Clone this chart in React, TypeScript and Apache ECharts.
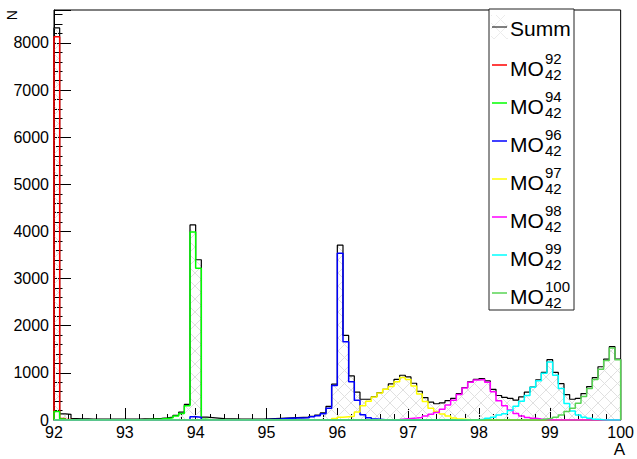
import React, { useEffect, useRef } from "react";
import * as echarts from "echarts";

// Histogram binning: 100 bins from 92 to 100
const BIN_MIN = 92;
const BIN_WIDTH = 0.08;

// Bin contents (bin i covers [92 + 0.08 i, 92 + 0.08 (i+1)])
const summ = [
  8320, 130, 120, 30, 25, 25, 20, 20, 20, 20,
  20, 20, 20, 20, 20, 25, 25, 30, 35, 45,
  60, 100, 165, 330, 4140, 3400, 60, 50, 40, 30,
  25, 25, 20, 20, 20, 20, 20, 25, 30, 35,
  40, 45, 50, 55, 60, 80, 105, 150, 290, 760,
  3710, 1795, 935, 590, 440, 440, 495, 580, 650, 765,
  860, 950, 915, 780, 610, 475, 380, 345, 365, 410,
  460, 560, 690, 810, 860, 880, 830, 650, 520, 480,
  460, 420, 490, 590, 700, 850, 1010, 1280, 1010, 770,
  540, 440, 460, 560, 710, 900, 1130, 1290, 1555, 1290,
];
const mo92 = [
  8130, 30, 10, 0, 0, 0, 0, 0, 0, 0,
  0, 0, 0, 0, 0, 0, 0, 0, 0, 0,
  0, 0, 0, 0, 0, 0, 0, 0, 0, 0,
  0, 0, 0, 0, 0, 0, 0, 0, 0, 0,
  0, 0, 0, 0, 0, 0, 0, 0, 0, 0,
  0, 0, 0, 0, 0, 0, 0, 0, 0, 0,
  0, 0, 0, 0, 0, 0, 0, 0, 0, 0,
  0, 0, 0, 0, 0, 0, 0, 0, 0, 0,
  0, 0, 0, 0, 0, 0, 0, 0, 0, 0,
  0, 0, 0, 0, 0, 0, 0, 0, 0, 0,
];
const mo94 = [
  180, 20, 0, 0, 0, 0, 0, 0, 0, 0,
  0, 0, 0, 0, 0, 5, 10, 15, 20, 30,
  45, 85, 140, 300, 3990, 3220, 15, 0, 0, 0,
  0, 0, 0, 0, 0, 0, 0, 0, 0, 0,
  0, 0, 0, 0, 0, 0, 0, 0, 0, 0,
  0, 0, 0, 0, 0, 0, 0, 0, 0, 0,
  0, 0, 0, 0, 0, 0, 0, 0, 0, 0,
  0, 0, 0, 0, 0, 0, 0, 0, 0, 0,
  0, 0, 0, 0, 0, 0, 0, 0, 0, 0,
  0, 0, 0, 0, 0, 0, 0, 0, 0, 0,
];
const mo96 = [
  0, 0, 0, 0, 0, 0, 0, 0, 0, 0,
  0, 0, 0, 0, 0, 0, 0, 0, 0, 0,
  0, 0, 0, 0, 70, 60, 0, 0, 0, 0,
  0, 0, 0, 0, 0, 0, 5, 10, 15, 20,
  30, 35, 40, 45, 50, 70, 90, 130, 250, 730,
  3540, 1660, 810, 420, 110, 50, 20, 10, 0, 0,
  0, 0, 0, 0, 0, 0, 0, 0, 0, 0,
  0, 0, 0, 0, 0, 0, 0, 0, 0, 0,
  0, 0, 0, 0, 0, 0, 0, 0, 0, 0,
  0, 0, 0, 0, 0, 0, 0, 0, 0, 0,
];
const mo97 = [
  0, 0, 0, 0, 0, 0, 0, 0, 0, 0,
  0, 0, 0, 0, 0, 0, 0, 0, 0, 0,
  0, 0, 0, 0, 0, 0, 0, 0, 0, 0,
  0, 0, 0, 0, 0, 0, 0, 0, 0, 0,
  0, 0, 0, 0, 0, 0, 0, 5, 10, 30,
  60, 70, 80, 170, 300, 400, 490, 575, 650, 710,
  810, 900, 860, 720, 550, 390, 250, 180, 125, 85,
  40, 20, 10, 0, 0, 0, 0, 0, 0, 0,
  0, 0, 0, 0, 0, 0, 0, 0, 0, 0,
  0, 0, 0, 0, 0, 0, 0, 0, 0, 0,
];
const mo98 = [
  0, 0, 0, 0, 0, 0, 0, 0, 0, 0,
  0, 0, 0, 0, 0, 0, 0, 0, 0, 0,
  0, 0, 0, 0, 0, 0, 0, 0, 0, 0,
  0, 0, 0, 0, 0, 0, 0, 0, 0, 0,
  0, 0, 0, 0, 0, 0, 0, 0, 0, 0,
  0, 0, 0, 0, 0, 0, 0, 0, 0, 5,
  10, 20, 30, 40, 55, 85, 120, 160, 230, 320,
  420, 540, 680, 800, 850, 860, 800, 600, 410, 300,
  210, 140, 85, 55, 35, 20, 10, 0, 0, 0,
  0, 0, 0, 0, 0, 0, 0, 0, 0, 0,
];
const mo99 = [
  0, 0, 0, 0, 0, 0, 0, 0, 0, 0,
  0, 0, 0, 0, 0, 0, 0, 0, 0, 0,
  0, 0, 0, 0, 0, 0, 0, 0, 0, 0,
  0, 0, 0, 0, 0, 0, 0, 0, 0, 0,
  0, 0, 0, 0, 0, 0, 0, 0, 0, 0,
  0, 0, 0, 0, 0, 0, 0, 0, 0, 0,
  0, 0, 0, 0, 0, 0, 0, 0, 0, 0,
  0, 0, 0, 0, 5, 15, 35, 57, 106, 130,
  200, 290, 400, 520, 693, 833, 990, 1230, 950, 670,
  350, 190, 106, 57, 35, 14, 5, 0, 0, 0,
];
const mo100 = [
  0, 0, 0, 0, 0, 0, 0, 0, 0, 0,
  0, 0, 0, 0, 0, 0, 0, 0, 0, 0,
  0, 0, 0, 0, 0, 0, 0, 0, 0, 0,
  0, 0, 0, 0, 0, 0, 0, 0, 0, 0,
  0, 0, 0, 0, 0, 0, 0, 0, 0, 0,
  0, 0, 0, 0, 0, 0, 0, 0, 0, 0,
  0, 0, 0, 0, 0, 0, 0, 0, 0, 0,
  0, 0, 0, 0, 0, 0, 0, 0, 0, 0,
  0, 0, 0, 0, 0, 5, 20, 35, 57, 106,
  180, 250, 354, 500, 671, 862, 1075, 1260, 1530, 1280,
];

const componentMasses = ["92", "94", "96", "97", "98", "99", "100"];
const componentData = [mo92, mo94, mo96, mo97, mo98, mo99, mo100];
const componentColors = ["#ff0000", "#00ff00", "#0000ff", "#ffff00", "#ff00ff", "#00ffff", "#59d454"];
const chargeNumber = "42";
const elementSymbol = "MO";
const summName = "Summ";

const xTicks = { min: 92, max: 100, interval: 1 };
const yTicks = { min: 0, max: 8700, interval: 1000 };

const FONT = "'Liberation Sans', Arial, Helvetica, sans-serif";

function histPoints(vals: number[]): [number, number][] {
  const pts: [number, number][] = [[BIN_MIN, 0]];
  vals.forEach((v, i) => {
    const x0 = BIN_MIN + i * BIN_WIDTH;
    pts.push([x0, v], [x0 + BIN_WIDTH, v]);
  });
  pts.push([BIN_MIN + vals.length * BIN_WIDTH, 0]);
  return pts;
}

const hatchSvg =
  "<svg xmlns='http://www.w3.org/2000/svg' width='13' height='13'>" +
  "<path d='M0 0L13 13M13 0L0 13' stroke='#e0e0e0' stroke-width='1' fill='none'/></svg>";
const hatchUrl = "data:image/svg+xml;charset=utf-8," + encodeURIComponent(hatchSvg);

export default function App() {
  const ref = useRef<HTMLDivElement>(null);

  useEffect(() => {
    if (!ref.current) return;
    const chart = echarts.init(ref.current, undefined, { renderer: "svg" });

    const hatch: any = { image: hatchUrl, repeat: "repeat", imageWidth: 13, imageHeight: 13 };

    const series: any[] = [
      {
        name: summName,
        type: "line",
        data: histPoints(summ),
        symbol: "none",
        silent: true,
        lineStyle: { color: "#000", width: 1.2 },
        areaStyle: { color: hatch, opacity: 1 },
        z: 2,
      },
      ...componentData.map((d, k) => ({
        name: elementSymbol + componentMasses[k],
        type: "line",
        data: histPoints(d),
        symbol: "none",
        silent: true,
        lineStyle: { color: componentColors[k], width: 1.5 },
        z: 3 + k,
      })),
    ];

    // Legend built from graphic elements (stacked super/subscripts)
    const lx = 489, ly = 9, lw = 85, lh = 301, step = 38, firstY = 27;
    const legendEls: any[] = [
      { type: "rect", shape: { x: lx, y: ly, width: lw, height: lh }, style: { fill: "#fff", stroke: "#222", lineWidth: 1 }, z: 100 },
      { type: "rect", shape: { x: lx + 2, y: firstY - 12, width: 17, height: 24 }, style: { fill: hatch, opacity: 0.6 }, z: 101 },
      { type: "line", shape: { x1: lx + 3, y1: firstY, x2: lx + 18, y2: firstY }, style: { stroke: "#000", lineWidth: 1 }, z: 102 },
      { type: "text", style: { text: summName, x: lx + 21, y: firstY + 1, font: `21px ${FONT}`, fill: "#000", align: "left", verticalAlign: "middle" }, z: 102 },
    ];
    componentMasses.forEach((m, k) => {
      const cy = firstY + step * (k + 1);
      legendEls.push(
        { type: "line", shape: { x1: lx + 3, y1: cy, x2: lx + 18, y2: cy }, style: { stroke: componentColors[k], lineWidth: 1.5 }, z: 102 },
        { type: "text", style: { text: elementSymbol, x: lx + 21, y: cy + 3, font: `21px ${FONT}`, fill: "#000", align: "left", verticalAlign: "middle" }, z: 102 },
        { type: "text", style: { text: m, x: lx + 56, y: cy - 7, font: `15px ${FONT}`, fill: "#000", align: "left", verticalAlign: "middle" }, z: 102 },
        { type: "text", style: { text: chargeNumber, x: lx + 56, y: cy + 9, font: `15px ${FONT}`, fill: "#000", align: "left", verticalAlign: "middle" }, z: 102 },
      );
    });

    const option: any = {
      animation: false,
      backgroundColor: "#fff",
      grid: { left: 54, right: 12, top: 10, bottom: 39, show: true, borderColor: "#000", borderWidth: 1, backgroundColor: "transparent" },
      xAxis: {
        type: "value",
        min: xTicks.min,
        max: xTicks.max,
        interval: xTicks.interval,
        axisLine: { show: true, onZero: false, lineStyle: { color: "#000", width: 1 } },
        axisTick: { show: true, inside: true, length: 12, lineStyle: { color: "#000", width: 1 } },
        minorTick: { show: true, splitNumber: 5, length: 6, lineStyle: { color: "#000", width: 1 } },
        splitLine: { show: false },
        minorSplitLine: { show: false },
        axisLabel: { color: "#000", fontSize: 16, fontFamily: FONT, margin: 4, formatter: (v: number) => String(v) },
      },
      yAxis: {
        type: "value",
        min: yTicks.min,
        max: yTicks.max,
        interval: yTicks.interval,
        axisLine: { show: true, lineStyle: { color: "#000", width: 1 } },
        axisTick: { show: true, inside: true, length: 17, lineStyle: { color: "#000", width: 1 } },
        minorTick: { show: true, splitNumber: 5, length: 8.5, lineStyle: { color: "#000", width: 1 } },
        splitLine: { show: false },
        minorSplitLine: { show: false },
        axisLabel: { color: "#000", fontSize: 16, fontFamily: FONT, margin: 5, showMaxLabel: false, formatter: (v: number) => String(v) },
      },
      series,
      graphic: [
        ...legendEls,
        { type: "text", x: 12, y: 10, rotation: Math.PI / 2, style: { text: "N", font: `14px ${FONT}`, fill: "#000", align: "right", verticalAlign: "middle" }, z: 102 },
        { type: "text", style: { text: "A", x: 625, y: 449, font: `17px ${FONT}`, fill: "#000", align: "right", verticalAlign: "middle" }, z: 102 },
      ],
    };

    chart.setOption(option);
    return () => chart.dispose();
  }, []);

  return <div ref={ref} style={{ position: "fixed", left: 0, top: 0, width: 637, height: 459 }} />;
}
